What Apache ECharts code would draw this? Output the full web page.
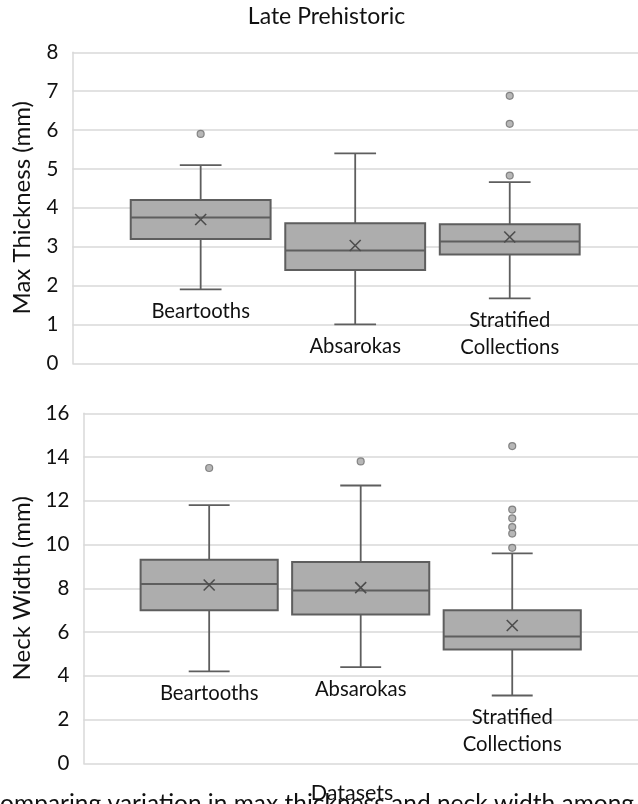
<!DOCTYPE html>
<html>
<head>
<meta charset="utf-8">
<script src="https://cdn.jsdelivr.net/npm/echarts@6/dist/echarts.min.js"></script>
<style>html,body{margin:0;padding:0;background:#fff;}#c{width:638px;height:804px;}</style>
</head>
<body>
<div id="c"></div>
<script>
// ---- data ----
const categories = ['Beartooths', 'Absarokas', 'Stratified\nCollections'];
// [whisker low, Q1, median, Q3, whisker high]
const thicknessStats = [
  [1.9, 3.2, 3.75, 4.2, 5.1],
  [1.0, 2.4, 2.9, 3.6, 5.4],
  [1.67, 2.8, 3.13, 3.58, 4.66]
];
const thicknessMeans = [3.7, 3.03, 3.25];
const thicknessOutliers = [[5.9], [], [4.83, 6.16, 6.88]];

const neckStats = [
  [4.2, 7.0, 8.2, 9.3, 11.8],
  [4.4, 6.8, 7.9, 9.2, 12.7],
  [3.1, 5.2, 5.8, 7.0, 9.6]
];
const neckMeans = [8.15, 8.03, 6.3];
const neckOutliers = [[13.5], [13.8], [9.85, 10.5, 10.8, 11.2, 11.6, 14.5]];

const thicknessTicks = { min: 0, max: 8, interval: 1 };
const neckTicks = { min: 0, max: 16, interval: 2 };

// ---- styling ----
const FONT = 'Lato';
const BOX_FILL = '#ADADAD';
const LINE = '#5E5E5E';
const GRID_LINE = '#D9D9D9';
const BOX_RATIO = 0.905;
const CAP_RATIO = 0.27;

function buildBoxData(stats, means) {
  return stats.map((s, i) => [i].concat(s).concat([means[i]]));
}
function buildOutlierData(outs) {
  const res = [];
  outs.forEach((arr, i) => arr.forEach(v => res.push([i, v])));
  return res;
}

function renderBox(params, api) {
  const i = api.value(0);
  const lo = api.value(1), q1 = api.value(2), med = api.value(3), q3 = api.value(4), hi = api.value(5), mean = api.value(6);
  const band = api.size([1, 0])[0];
  const bw = band * BOX_RATIO, cw = band * CAP_RATIO;
  const pLo = api.coord([i, lo]), pQ1 = api.coord([i, q1]), pMed = api.coord([i, med]);
  const pQ3 = api.coord([i, q3]), pHi = api.coord([i, hi]), pMean = api.coord([i, mean]);
  const cx = pMed[0];
  const lineStyle = { stroke: LINE, lineWidth: 1.8 };
  const m = 5.5;
  return {
    type: 'group',
    children: [
      { type: 'line', shape: { x1: cx, y1: pQ3[1], x2: cx, y2: pHi[1] }, style: lineStyle },
      { type: 'line', shape: { x1: cx, y1: pQ1[1], x2: cx, y2: pLo[1] }, style: lineStyle },
      { type: 'line', shape: { x1: cx - cw / 2, y1: pHi[1], x2: cx + cw / 2, y2: pHi[1] }, style: lineStyle },
      { type: 'line', shape: { x1: cx - cw / 2, y1: pLo[1], x2: cx + cw / 2, y2: pLo[1] }, style: lineStyle },
      { type: 'rect', shape: { x: cx - bw / 2, y: pQ3[1], width: bw, height: pQ1[1] - pQ3[1] },
        style: { fill: BOX_FILL, stroke: LINE, lineWidth: 2 } },
      { type: 'line', shape: { x1: cx - bw / 2, y1: pMed[1], x2: cx + bw / 2, y2: pMed[1] }, style: { stroke: LINE, lineWidth: 2 } },
      { type: 'line', shape: { x1: cx - m, y1: pMean[1] - m, x2: cx + m, y2: pMean[1] + m }, style: { stroke: '#4D4D4D', lineWidth: 1.6 } },
      { type: 'line', shape: { x1: cx - m, y1: pMean[1] + m, x2: cx + m, y2: pMean[1] - m }, style: { stroke: '#4D4D4D', lineWidth: 1.6 } },
      { type: 'text', style: { text: categories[i], x: cx, y: pLo[1] + 9, align: 'center', verticalAlign: 'top',
        fontSize: 20.3, fontFamily: FONT, fill: '#111', lineHeight: 26.7 } }
    ]
  };
}

function yAxisCfg(gridIndex, ticks, name, gap) {
  return {
    gridIndex, type: 'value', min: ticks.min, max: ticks.max, interval: ticks.interval,
    name, nameLocation: 'middle', nameGap: gap,
    nameTextStyle: { fontSize: 24, fontFamily: FONT, color: '#111' },
    axisLine: { show: true, onZero: false, lineStyle: { color: GRID_LINE, width: 1.5 } },
    axisTick: { show: false },
    axisLabel: { fontSize: 20.5, fontFamily: FONT, color: '#111', margin: 14 },
    splitLine: { show: true, lineStyle: { color: GRID_LINE, width: 1.5 } }
  };
}
function xAxisCfg(gridIndex) {
  return {
    gridIndex, type: 'value', min: -0.83, max: 2.83,
    axisLine: { show: false, onZero: false }, axisTick: { show: false }, axisLabel: { show: false }, splitLine: { show: false }
  };
}

const chart = echarts.init(document.getElementById('c'), null, { renderer: 'canvas' });
chart.setOption({
  animation: false,
  backgroundColor: '#fff',
  grid: [
    { left: 72.4, right: -0.5, top: 52.3, bottom: 440.7 },
    { left: 83.4, right: -0.5, top: 413.3, bottom: 40.7 }
  ],
  xAxis: [xAxisCfg(0), xAxisCfg(1)],
  yAxis: [
    yAxisCfg(0, thicknessTicks, 'Max Thickness (mm)', 38),
    yAxisCfg(1, neckTicks, 'Neck Width (mm)', 48)
  ],
  series: [
    { type: 'custom', xAxisIndex: 0, yAxisIndex: 0, renderItem: renderBox, data: buildBoxData(thicknessStats, thicknessMeans), clip: false },
    { type: 'scatter', xAxisIndex: 0, yAxisIndex: 0, data: buildOutlierData(thicknessOutliers), symbol: 'circle', symbolSize: 7,
      itemStyle: { color: '#A5A5A5', borderColor: '#6E6E6E', borderWidth: 1.2 } },
    { type: 'custom', xAxisIndex: 1, yAxisIndex: 1, renderItem: renderBox, data: buildBoxData(neckStats, neckMeans), clip: false },
    { type: 'scatter', xAxisIndex: 1, yAxisIndex: 1, data: buildOutlierData(neckOutliers), symbol: 'circle', symbolSize: 7,
      itemStyle: { color: '#A5A5A5', borderColor: '#6E6E6E', borderWidth: 1.2 } }
  ],
  graphic: [
    { type: 'text', x: 326.5, y: 17, style: { text: 'Late Prehistoric', align: 'center', verticalAlign: 'middle',
      fontSize: 23, fontFamily: FONT, fill: '#111' } },
    { type: 'text', x: 352, y: 793, style: { text: 'Datasets', align: 'center', verticalAlign: 'middle',
      fontSize: 21.5, fontFamily: FONT, fill: '#111' } },
    { type: 'text', x: -16, y: 804, style: { text: 'Comparing variation in max thickness and neck width among', align: 'left', verticalAlign: 'middle',
      fontSize: 24.5, fontFamily: FONT, fill: '#111' } }
  ]
});
</script>
</body>
</html>
